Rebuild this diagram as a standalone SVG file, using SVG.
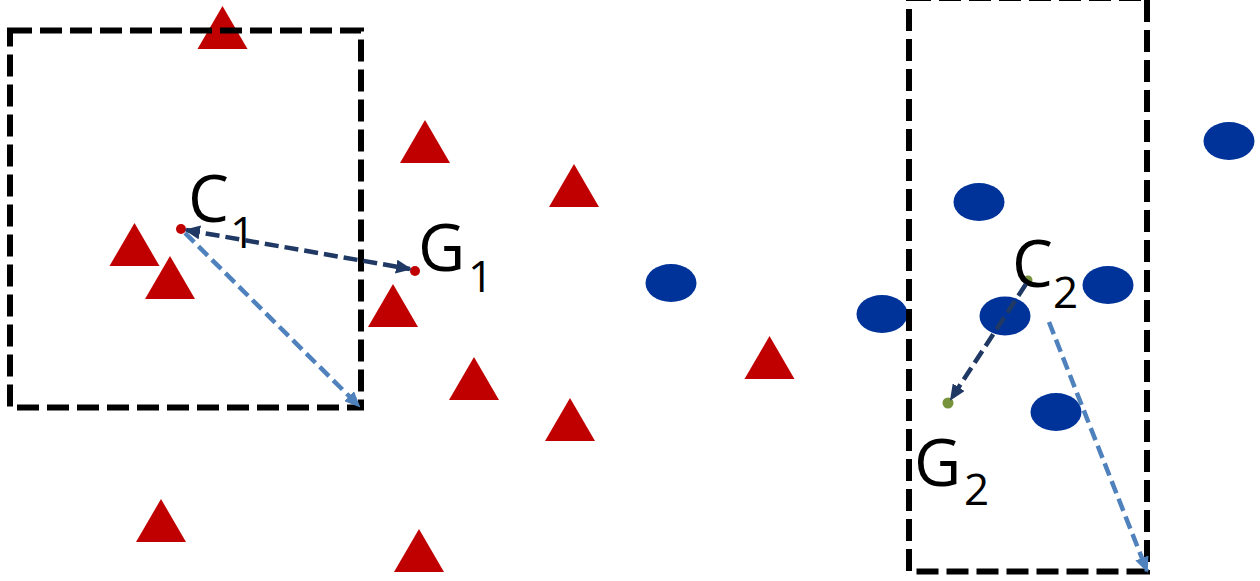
<svg xmlns="http://www.w3.org/2000/svg" xmlns:xlink="http://www.w3.org/1999/xlink" width="1260" height="581" viewBox="0 0 1260 581">
<style>
.tri{fill:#C00000}
.ell{fill:#003399}
.box{fill:none;stroke:#000;stroke-width:6;stroke-dasharray:22 8}
.dark{fill:none;stroke:#1F3864;stroke-width:4.5;stroke-dasharray:14 6}
.light{fill:none;stroke:#4F81BD;stroke-width:4.5;stroke-dasharray:13 6}
.lbl{font-family:"Open Sans","Liberation Sans",sans-serif;fill:#000}
.big{font-size:65px}
.sub{font-size:44px}
</style>
<defs>
<path id="tri" d="M0,0 L25,43 L-25,43 Z"/>
<marker id="aDark" markerUnits="userSpaceOnUse" markerWidth="16" markerHeight="14" refX="14" refY="7" orient="auto-start-reverse" viewBox="0 0 16 14">
<path d="M0,0 L16,7 L0,14 Z" fill="#1F3864"/>
</marker>
<marker id="aLight" markerUnits="userSpaceOnUse" markerWidth="16" markerHeight="14" refX="14" refY="7" orient="auto" viewBox="0 0 16 14">
<path d="M0,0 L16,7 L0,14 Z" fill="#4F81BD"/>
</marker>
</defs>
<rect width="1260" height="581" fill="#fff"/>
<g id="triangles">
<use id="t1" class="tri" xlink:href="#tri" x="222.5" y="6"/>
<use id="t2" class="tri" xlink:href="#tri" x="425" y="120"/>
<use id="t3" class="tri" xlink:href="#tri" x="574" y="164"/>
<use id="t4" class="tri" xlink:href="#tri" x="134.5" y="223"/>
<use id="t5" class="tri" xlink:href="#tri" x="170" y="256"/>
<use id="t6" class="tri" xlink:href="#tri" x="393" y="284"/>
<use id="t7" class="tri" xlink:href="#tri" x="474" y="357"/>
<use id="t8" class="tri" xlink:href="#tri" x="769.5" y="336"/>
<use id="t9" class="tri" xlink:href="#tri" x="570" y="398"/>
<use id="t10" class="tri" xlink:href="#tri" x="161" y="499"/>
<use id="t11" class="tri" xlink:href="#tri" x="419" y="529"/>
</g>
<g id="ellipses">
<ellipse id="e1" class="ell" cx="1229" cy="141" rx="25.5" ry="19"/>
<ellipse id="e2" class="ell" cx="979" cy="202" rx="25.5" ry="19"/>
<ellipse id="e3" class="ell" cx="671" cy="283" rx="25.5" ry="19"/>
<ellipse id="e4" class="ell" cx="882" cy="314" rx="25.5" ry="19"/>
<ellipse id="e5" class="ell" cx="1005" cy="316" rx="25.5" ry="19.5"/>
<ellipse id="e6" class="ell" cx="1108" cy="285" rx="25.5" ry="19"/>
<ellipse id="e7" class="ell" cx="1056" cy="412" rx="25.5" ry="19"/>
</g>
<g id="box1"><rect class="box" x="10" y="30.5" width="351" height="377"/></g>
<g id="box2"><rect class="box" x="909" y="-2" width="238" height="573.5"/></g>
<g id="C1">
<circle cx="181" cy="229" r="5" fill="#C00000"/>
<text class="lbl"><tspan class="big" x="188" y="222">C</tspan><tspan class="sub" x="230" y="248">1</tspan></text>
</g>
<g id="G1">
<circle cx="415" cy="271" r="5" fill="#C00000"/>
<text class="lbl"><tspan class="big" x="418" y="271">G</tspan><tspan class="sub" x="468" y="292">1</tspan></text>
</g>
<g id="C2">
<circle cx="1028" cy="280" r="4.5" fill="#77933C"/>
<text class="lbl"><tspan class="big" x="1012" y="287">C</tspan><tspan class="sub" x="1053" y="308">2</tspan></text>
</g>
<g id="G2">
<circle cx="948" cy="403" r="5.5" fill="#77933C"/>
<text class="lbl"><tspan class="big" x="914" y="486">G</tspan><tspan class="sub" x="964" y="505">2</tspan></text>
</g>
<g id="connectors">
<line class="dark" x1="186" y1="230" x2="410" y2="269" marker-start="url(#aDark)" marker-end="url(#aDark)"/>
<line class="light" x1="185" y1="233" x2="359" y2="406" marker-end="url(#aLight)"/>
<line class="dark" x1="1026" y1="284" x2="951" y2="399" marker-end="url(#aDark)"/>
<line class="light" x1="1049" y1="322" x2="1147" y2="571" marker-end="url(#aLight)"/>
</g>
</svg>
